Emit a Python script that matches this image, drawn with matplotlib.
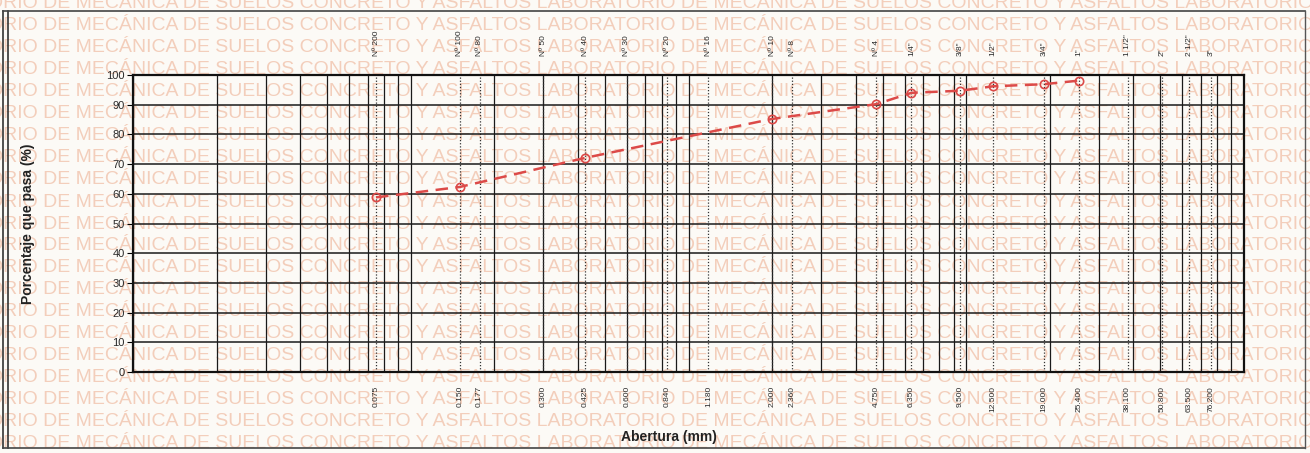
import matplotlib
matplotlib.use("Agg")
import matplotlib.pyplot as plt
from matplotlib.ticker import LogLocator, NullFormatter, FixedLocator, FixedFormatter, NullLocator
from matplotlib.lines import Line2D

plt.rcParams['font.family'] = ['Liberation Sans', 'DejaVu Sans']

# tamices ASTM: abertura (mm) y designacion
aberturas = [0.075, 0.150, 0.177, 0.300, 0.425, 0.600, 0.840, 1.180, 2.000, 2.360,
             4.750, 6.350, 9.500, 12.500, 19.000, 25.400, 38.100, 50.800, 63.500, 76.200]
tamices = ['Nº 200', 'Nº 100', 'Nº 80', 'Nº 50', 'Nº 40', 'Nº 30', 'Nº 20', 'Nº 16', 'Nº 10', 'Nº 8',
           'Nº 4', '1/4"', '3/8"', '1/2"', '3/4"', '1"', '1 1/2"', '2"', '2 1/2"', '3"']

# curva granulometrica de la muestra
abertura_muestra = [0.075, 0.150, 0.425, 2.000, 4.750, 6.350, 9.500, 12.500, 19.000, 25.400]
porcentaje_pasa = [58.8, 62.3, 72.1, 85.2, 90.2, 94.0, 94.7, 96.2, 96.9, 98.1]

marca_agua = "ORIO DE MECÁNICA DE SUELOS CONCRETO Y ASFALTOS LABORATORIO DE MECÁNICA DE SUELOS CONCRETO Y ASFALTOS LABORATORIO"

W, H = 1310, 453
fig = plt.figure(figsize=(W / 100, H / 100), dpi=100)
fig.patch.set_facecolor('#fcfaf6')

# marca de agua del laboratorio, por debajo del grafico
for i in range(21):
    fig.text(-12 / W, 1 - (4 + 22 * i) / H, marca_agua, color='#f3ceBB', fontsize=14,
             ha='left', va='center', zorder=-5)

# marco de la hoja
for xx in (3, 8):
    fig.add_artist(Line2D([xx / W, xx / W], [1 - 11 / H, 1 - 448 / H], color='#333333', lw=1.2))
fig.add_artist(Line2D([3 / W, 1305 / W], [1 - 11 / H, 1 - 11 / H], color='#444444', lw=1.2))
fig.add_artist(Line2D([3 / W, 1305 / W], [1 - 448 / H, 1 - 448 / H], color='#444444', lw=1.2))
fig.add_artist(Line2D([1305 / W, 1305 / W], [1 - 11 / H, 1 - 448 / H], color='#555555', lw=1.0))

ax = fig.add_axes([133 / W, 1 - 372 / H, (1244 - 133) / W, (372 - 75) / H])
ax.set_facecolor('none')
ax.set_xscale('log')
ax.set_xlim(0.01, 100)
ax.set_ylim(0, 100)

# reticula logaritmica (lineas continuas) y tamices (lineas punteadas)
ax.xaxis.set_major_locator(LogLocator(base=10, subs=range(1, 10), numticks=100))
ax.xaxis.set_major_formatter(NullFormatter())
ax.xaxis.set_minor_locator(FixedLocator(aberturas))
ax.xaxis.set_minor_formatter(FixedFormatter([f'{a:.3f}' for a in aberturas]))
ax.xaxis.remove_overlapping_locs = False
ax.grid(True, which='major', axis='x', color='#1a1a1a', lw=0.9)
ax.grid(True, which='minor', axis='x', color='#333333', lw=0.9, ls=(0, (1, 1.5)))
ax.set_yticks(range(0, 101, 10))
ax.grid(True, which='major', axis='y', color='#1a1a1a', lw=1.1)
ax.tick_params(axis='x', which='both', length=0)
ax.tick_params(axis='x', which='minor', labelsize=6, labelrotation=90, pad=10, labelcolor='#2a2a2a')
ax.tick_params(axis='y', length=4, width=0.8, labelsize=8, labelcolor='#2a2a2a', pad=2)
for s in ax.spines.values():
    s.set_linewidth(1.6)
    s.set_color('#111111')

sec = ax.secondary_xaxis('top')
sec.set_xticks(aberturas, labels=tamices)
sec.xaxis.set_minor_locator(NullLocator())
sec.tick_params(axis='x', length=0, labelsize=6, labelrotation=90, pad=14, labelcolor='#2a2a2a')
sec.spines['top'].set_visible(False)

ax.plot(abertura_muestra, porcentaje_pasa, color='#dc4a48', lw=1.8, ls=(0, (5, 3)),
        marker='o', markersize=6, markerfacecolor='none', markeredgecolor='#dc4a48',
        markeredgewidth=1.2, zorder=5)

ax.set_ylabel('Porcentaje que pasa (%)', fontsize=10, fontweight='bold', color='#222222')
ax.yaxis.set_label_coords((35 - 133) / 1111, 0.5)
ax.set_xlabel('Abertura (mm)', fontsize=10, fontweight='bold', color='#222222')
ax.xaxis.set_label_coords((669 - 133) / 1111, -(437 - 372) / 297)
ax.xaxis.label.set_va('center')

fig.savefig('out.png', dpi=100, facecolor=fig.get_facecolor())
